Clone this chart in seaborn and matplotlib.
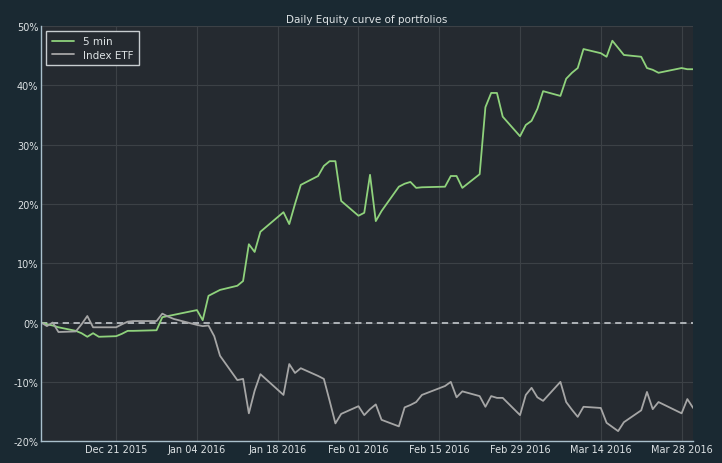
import matplotlib
matplotlib.use("Agg")
import matplotlib.pyplot as plt
import matplotlib.dates as mdates
from matplotlib.ticker import FuncFormatter
import seaborn as sns
import pandas as pd

# trading days shown on the chart
dates = [
    "2015-12-08", "2015-12-09", "2015-12-10", "2015-12-11", "2015-12-14", "2015-12-15",
    "2015-12-16", "2015-12-17", "2015-12-18", "2015-12-21", "2015-12-22", "2015-12-23",
    "2015-12-24", "2015-12-28", "2015-12-29", "2015-12-30", "2015-12-31", "2016-01-04",
    "2016-01-05", "2016-01-06", "2016-01-07", "2016-01-08", "2016-01-11", "2016-01-12",
    "2016-01-13", "2016-01-14", "2016-01-15", "2016-01-19", "2016-01-20", "2016-01-21",
    "2016-01-22", "2016-01-25", "2016-01-26", "2016-01-27", "2016-01-28", "2016-01-29",
    "2016-02-01", "2016-02-02", "2016-02-03", "2016-02-04", "2016-02-05", "2016-02-08",
    "2016-02-09", "2016-02-10", "2016-02-11", "2016-02-12", "2016-02-16", "2016-02-17",
    "2016-02-18", "2016-02-19", "2016-02-22", "2016-02-23", "2016-02-24", "2016-02-25",
    "2016-02-26", "2016-02-29", "2016-03-01", "2016-03-02", "2016-03-03", "2016-03-04",
    "2016-03-07", "2016-03-08", "2016-03-09", "2016-03-10", "2016-03-11", "2016-03-14",
    "2016-03-15", "2016-03-16", "2016-03-17", "2016-03-18", "2016-03-21", "2016-03-22",
    "2016-03-23", "2016-03-24", "2016-03-28", "2016-03-29", "2016-03-30",
]

# cumulative return in %
five_min = [
    0.0, -0.3, -0.5, -0.8, -1.4, -1.8, -2.4, -1.8, -2.4, -2.3, -1.9, -1.4,
    -1.4, -1.3, 0.9, 1.1, 1.3, 2.1, 0.4, 4.5, 5.0, 5.5, 6.2, 7.0,
    13.2, 11.9, 15.3, 18.6, 16.6, 20.0, 23.2, 24.7, 26.4, 27.2, 27.2, 20.5,
    18.0, 18.5, 24.9, 17.1, 18.8, 22.9, 23.4, 23.7, 22.7, 22.8, 22.9, 24.7,
    24.7, 22.7, 25.0, 36.3, 38.7, 38.7, 34.7, 31.4, 33.3, 34.0, 36.0, 39.0,
    38.2, 41.1, 42.1, 42.9, 46.1, 45.4, 44.8, 47.5, 46.3, 45.1, 44.8, 42.9,
    42.6, 42.1, 42.9, 42.7, 42.7,
]
index_etf = [
    0.0, -0.6, 0.0, -1.6, -1.5, -0.3, 1.1, -0.8, -0.8, -0.8, -0.3, 0.15,
    0.25, 0.25, 1.5, 1.0, 0.6, -0.4, -0.6, -0.5, -2.3, -5.6, -9.7, -9.5,
    -15.3, -11.5, -8.7, -12.2, -7.0, -8.5, -7.7, -9.0, -9.5, -13.2, -17.0, -15.4,
    -14.1, -15.6, -14.6, -13.8, -16.4, -17.5, -14.3, -13.9, -13.4, -12.2, -10.7, -10.0,
    -12.6, -11.6, -12.4, -14.2, -12.4, -12.7, -12.7, -15.6, -12.2, -11.0, -12.6, -13.2,
    -10.0, -13.4, -14.7, -15.9, -14.2, -14.4, -16.9, -17.6, -18.3, -16.8, -14.8, -11.7,
    -14.6, -13.4, -15.3, -12.9, -14.4,
]

tick_dates = ["2015-12-21", "2016-01-04", "2016-01-18", "2016-02-01",
              "2016-02-15", "2016-02-29", "2016-03-14", "2016-03-28"]
y_ticks = [-20, -10, 0, 10, 20, 30, 40, 50]

fig_bg = "#1a2932"
ax_bg = "#252a30"
txt = "#dde2e4"

sns.set_theme(style="darkgrid", rc={
    "figure.facecolor": fig_bg,
    "axes.facecolor": ax_bg,
    "grid.color": "#3c4146",
    "grid.linewidth": 0.8,
    "axes.edgecolor": "#a9c0cc",
    "text.color": txt,
    "xtick.color": txt,
    "ytick.color": txt,
    "axes.labelcolor": txt,
})
plt.rcParams["font.family"] = ["DejaVu Sans"]

df = pd.DataFrame({
    "date": pd.to_datetime(dates),
    "5 min": five_min,
    "Index ETF": index_etf,
})
long = df.melt(id_vars="date", var_name="series", value_name="ret")

fig = plt.figure(figsize=(7.22, 4.64), dpi=100)
ax = fig.add_axes([0.057, 0.047, 0.903, 0.895])

sns.lineplot(data=long, x="date", y="ret", hue="series",
             palette={"5 min": "#8fd27c", "Index ETF": "#a6a6a6"},
             linewidth=1.3, ax=ax)
ax.axhline(0, color="#b8bcc0", linestyle=(0, (3.5, 2.5)), linewidth=1.3, zorder=1)

ax.set_xlim(pd.Timestamp(dates[0]), pd.Timestamp(dates[-1]))
ax.set_ylim(-20, 50)
ax.set_yticks(y_ticks)
ax.yaxis.set_major_formatter(FuncFormatter(lambda v, p: f"{v:.0f}%"))
ax.set_xticks(pd.to_datetime(tick_dates))
ax.xaxis.set_major_formatter(mdates.DateFormatter("%b %d %Y"))
ax.tick_params(axis="both", labelsize=7, pad=2, length=0)
ax.set_xlabel("")
ax.set_ylabel("")

for side in ["top", "right"]:
    ax.spines[side].set_visible(False)
for side in ["left", "bottom"]:
    ax.spines[side].set_visible(True)
    ax.spines[side].set_color("#a9c0cc")
    ax.spines[side].set_linewidth(1.0)

ax.set_title("Daily Equity curve of portfolios", fontsize=7.5, color=txt, pad=3)

leg = ax.legend(loc="upper left", fontsize=7.5, frameon=True, fancybox=False,
                borderpad=0.5, handlelength=2.2, labelspacing=0.35)
leg.get_frame().set_facecolor(ax_bg)
leg.get_frame().set_edgecolor("#c8cdd0")
leg.get_frame().set_linewidth(1.0)
leg.get_frame().set_alpha(1)
for t in leg.get_texts():
    t.set_color(txt)

fig.savefig("out.png", dpi=100, facecolor=fig_bg)
